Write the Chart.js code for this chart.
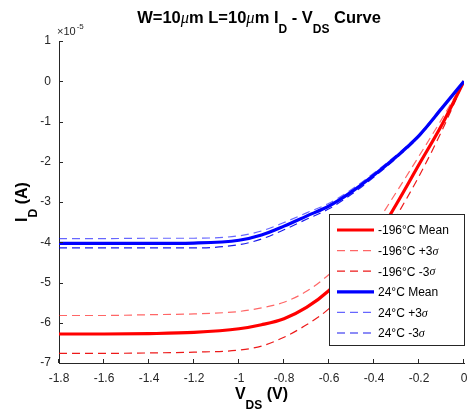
<!DOCTYPE html>
<html>
<head>
<meta charset="utf-8">
<script src="https://cdn.jsdelivr.net/npm/chart.js@4.4.0/dist/chart.umd.min.js"></script>
<style>
  html, body { margin: 0; padding: 0; background: #fff; }
</style>
</head>
<body>
<canvas id="chart" width="468" height="415"></canvas>
<script>
// V_DS (V) and I_D in units of 1e-5 A
const vds = [-1.8, -1.6, -1.4, -1.2, -1.0, -0.9, -0.8, -0.7, -0.6, -0.5, -0.4, -0.3, -0.2, -0.1, 0];
const coldMean  = [-6.28, -6.28, -6.27, -6.24, -6.15, -6.05, -5.9, -5.62, -5.2, -4.6, -3.95, -3.05, -2.07, -1.1, 0];
const coldPlus  = [-5.82, -5.82, -5.8, -5.78, -5.72, -5.63, -5.49, -5.22, -4.8, -4.25, -3.6, -2.75, -1.86, -0.95, 0];
const coldMinus = [-6.76, -6.76, -6.75, -6.73, -6.68, -6.58, -6.36, -6.05, -5.65, -5.05, -4.3, -3.35, -2.36, -1.25, 0];
const warmMean  = [-4.03, -4.03, -4.03, -4.02, -3.95, -3.82, -3.6, -3.35, -3.1, -2.75, -2.33, -1.87, -1.35, -0.68, 0];
const warmPlus  = [-3.91, -3.91, -3.9, -3.9, -3.84, -3.72, -3.51, -3.27, -3.03, -2.69, -2.28, -1.83, -1.32, -0.66, 0];
const warmMinus = [-4.14, -4.14, -4.14, -4.14, -4.06, -3.92, -3.69, -3.43, -3.17, -2.81, -2.38, -1.91, -1.38, -0.7, 0];

const xTicks = [-1.8, -1.6, -1.4, -1.2, -1, -0.8, -0.6, -0.4, -0.2, 0];
const yTicks = [-7, -6, -5, -4, -3, -2, -1, 0, 1];

const seriesNames = ['-196°C Mean', '-196°C +3σ', '-196°C -3σ', '24°C Mean', '24°C +3σ', '24°C -3σ'];

const SANS = '"Liberation Sans", Arial, Helvetica, sans-serif';
const AXIS = '#262626';

function pts(ys) {
  return vds.map((v, i) => ({ x: v, y: ys[i] }));
}

function makeSet(label, ys, color, width, dash, order) {
  return {
    label: label,
    data: pts(ys),
    borderColor: color,
    borderWidth: width,
    borderDash: dash,
    pointRadius: 0,
    fill: false,
    cubicInterpolationMode: 'monotone',
    order: order
  };
}

const datasets = [
  makeSet(seriesNames[0], coldMean, '#ff0000', 3.2, [], 6),
  makeSet(seriesNames[1], coldPlus, 'rgba(255,0,0,0.6)', 1.2, [8, 5], 5),
  makeSet(seriesNames[2], coldMinus, 'rgba(235,0,0,0.9)', 1.2, [8, 5], 4),
  makeSet(seriesNames[3], warmMean, '#0000ff', 3.2, [], 3),
  makeSet(seriesNames[4], warmPlus, 'rgba(0,0,255,0.6)', 1.2, [8, 5], 2),
  makeSet(seriesNames[5], warmMinus, 'rgba(0,0,235,0.9)', 1.2, [8, 5], 1)
];

// rich text: parts with optional sub / italic
function partFont(p, size) {
  if (p.it) return 'italic ' + size + 'px "Liberation Serif", "DejaVu Serif", serif';
  if (p.sub) return 'bold ' + Math.round(size * 0.72) + 'px ' + SANS;
  return 'bold ' + size + 'px ' + SANS;
}

function drawRich(ctx, parts, x, y, size, drop) {
  let w = 0;
  parts.forEach(p => { ctx.font = partFont(p, size); w += ctx.measureText(p.t).width; });
  let cx = x - w / 2;
  ctx.textAlign = 'left';
  ctx.textBaseline = 'alphabetic';
  parts.forEach(p => {
    ctx.font = partFont(p, size);
    ctx.fillText(p.t, cx, y + (p.sub ? drop : 0));
    cx += ctx.measureText(p.t).width;
  });
}

function legendText(ctx, str, x, y) {
  ctx.textAlign = 'left';
  ctx.textBaseline = 'middle';
  const i = str.indexOf('σ');
  const head = i >= 0 ? str.slice(0, i) : str;
  ctx.font = '12px ' + SANS;
  ctx.fillText(head, x, y);
  if (i >= 0) {
    const w = ctx.measureText(head).width;
    ctx.font = 'italic 12px "Liberation Serif", "DejaVu Serif", serif';
    ctx.fillText('σ', x + w, y);
  }
}

const decor = {
  id: 'decor',
  afterDatasetsDraw(chart) {
    const ctx = chart.ctx;
    const a = chart.chartArea;
    const xs = chart.scales.x, ys = chart.scales.y;
    ctx.save();

    // inward tick marks
    ctx.strokeStyle = AXIS;
    ctx.lineWidth = 1;
    ctx.beginPath();
    yTicks.forEach(v => {
      const py = Math.round(ys.getPixelForValue(v)) + 0.5;
      ctx.moveTo(a.left, py); ctx.lineTo(a.left + 4, py);
    });
    xTicks.forEach(v => {
      const px = Math.round(xs.getPixelForValue(v)) - 0.5;
      ctx.moveTo(px, a.bottom); ctx.lineTo(px, a.bottom - 4);
    });
    ctx.stroke();

    // exponent
    ctx.fillStyle = AXIS;
    ctx.textAlign = 'left';
    ctx.textBaseline = 'alphabetic';
    ctx.font = '11px ' + SANS;
    ctx.fillText('×10', 57, 35);
    const ew = ctx.measureText('×10').width;
    ctx.font = '8px ' + SANS;
    ctx.fillText('-5', 57 + ew + 1, 29);

    // title
    ctx.fillStyle = '#000';
    drawRich(ctx, [
      { t: 'W=10' }, { t: 'μ', it: true }, { t: 'm L=10' }, { t: 'μ', it: true },
      { t: 'm I' }, { t: 'D', sub: true }, { t: ' - V' }, { t: 'DS', sub: true }, { t: ' Curve' }
    ], 259, 23, 16.5, 10);

    // x label
    drawRich(ctx, [{ t: 'V' }, { t: 'DS', sub: true }, { t: ' (V)' }],
      (a.left + a.right) / 2, 399, 16, 10);

    // y label
    ctx.save();
    ctx.translate(27, (a.top + a.bottom) / 2);
    ctx.rotate(-Math.PI / 2);
    drawRich(ctx, [{ t: 'I' }, { t: 'D', sub: true }, { t: ' (A)' }], 0, 0, 16, 10);
    ctx.restore();

    // legend
    const lx = 329.5, ly = 214.5, lw = 135, lh = 131;
    ctx.fillStyle = '#fff';
    ctx.fillRect(lx, ly, lw, lh);
    ctx.strokeStyle = AXIS;
    ctx.lineWidth = 1;
    ctx.setLineDash([]);
    ctx.strokeRect(lx, ly, lw, lh);
    chart.data.datasets.forEach((ds, i) => {
      const ry = 230 + i * 20.6;
      ctx.strokeStyle = ds.borderColor;
      ctx.lineWidth = ds.borderWidth;
      ctx.setLineDash(ds.borderDash);
      ctx.beginPath();
      ctx.moveTo(337, ry); ctx.lineTo(374, ry);
      ctx.stroke();
      ctx.setLineDash([]);
      ctx.fillStyle = '#000';
      legendText(ctx, ds.label, 378, ry + 1);
    });
    ctx.restore();
  }
};

new Chart(document.getElementById('chart'), {
  type: 'line',
  data: { datasets: datasets },
  options: {
    responsive: false,
    animation: false,
    layout: { padding: { top: 41, right: 4, left: 0, bottom: 0 } },
    plugins: { legend: { display: false }, title: { display: false }, tooltip: { enabled: false } },
    scales: {
      x: {
        type: 'linear',
        min: -1.8,
        max: 0,
        afterBuildTicks: s => { s.ticks = xTicks.map(v => ({ value: v })); },
        afterFit: s => { s.height = 52; s.paddingLeft = 0; s.paddingRight = 0; },
        grid: { display: false, drawTicks: false },
        border: { display: true, color: AXIS, width: 1 },
        ticks: {
          color: AXIS, padding: 8, maxRotation: 0, autoSkip: false,
          font: { family: SANS, size: 12 },
          callback: v => String(Math.round(v * 10) / 10)
        }
      },
      y: {
        type: 'linear',
        min: -7,
        max: 1,
        afterBuildTicks: s => { s.ticks = yTicks.map(v => ({ value: v })); },
        afterFit: s => { s.width = 59; s.paddingTop = 0; s.paddingBottom = 0; },
        grid: { display: false, drawTicks: false },
        border: { display: true, color: AXIS, width: 1 },
        ticks: {
          color: AXIS, padding: 8, autoSkip: false,
          font: { family: SANS, size: 12 },
          callback: v => String(v)
        }
      }
    }
  },
  plugins: [decor]
});
</script>
</body>
</html>
